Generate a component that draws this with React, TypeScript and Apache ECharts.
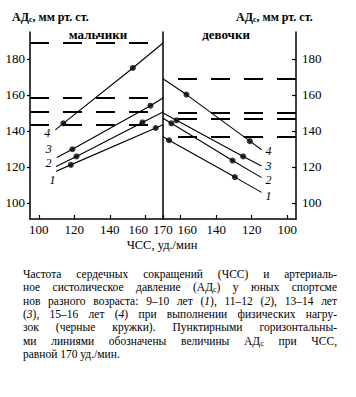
import React, { useEffect, useRef } from "react";
import * as echarts from "echarts";

// ---- data (ЧСС, АДс) ----
const boysLine1 = [[109.7, 117.5], [118, 121.1], [165.9, 141.6], [170, 143.4]];
const boysLine2 = [[109.7, 120.2], [121.2, 125.8], [158.4, 144.7], [170, 150.5]];
const boysLine3 = [[110.1, 125.2], [118.9, 129.8], [162.9, 154.0], [170, 158.3]];
const boysLine4 = [[109.3, 140.6], [113.8, 144.2], [153, 175.0], [170, 188.9]];
const boysDots1 = [[118, 121.1], [165.9, 141.6]];
const boysDots2 = [[121.2, 125.8], [158.4, 144.7]];
const boysDots3 = [[118.9, 129.8], [162.9, 154.0]];
const boysDots4 = [[113.8, 144.2], [153, 175.0]];

const girlsLine1 = [[170, 136.7], [166.6, 134.8], [129.5, 114.3], [114.4, 105.8]];
const girlsLine2 = [[170, 147.0], [165.3, 144.2], [130.8, 123.5], [114.4, 114.0]];
const girlsLine3 = [[170, 150.0], [162.4, 145.9], [124.8, 125.8], [114.4, 120.5]];
const girlsLine4 = [[170, 169.0], [156.8, 160.2], [121, 134.3], [114.4, 129.5]];
const girlsDots1 = [[166.6, 134.8], [129.5, 114.3]];
const girlsDots2 = [[165.3, 144.2], [130.8, 123.5]];
const girlsDots3 = [[162.4, 145.9], [124.8, 125.8]];
const girlsDots4 = [[156.8, 160.2], [121, 134.3]];

const lineNames = ["1", "2", "3", "4"];
const xTicksLeft = [100, 120, 140, 160, 170];
const xTicksRight = [100, 120, 140, 160];
const yTicks = [100, 120, 140, 160, 180];

const panelTitles = ["мальчики", "девочки"];
const yAxisTitle = "АД{s|с}, мм рт. ст.";
const xAxisTitle = "ЧСС, уд./мин";
const captionLines = [
  "Частота сердечных сокращений (ЧСС) и артериаль-",
  "ное систолическое давление (АД{s|с}) у юных спортсме",
  "нов разного возраста: 9–10 лет ({i|1}), 11–12 ({i|2}), 13–14 лет",
  "({i|3}), 15–16 лет ({i|4}) при выполнении физических нагру-",
  "зок (черные кружки). Пунктирными горизонтальны-",
  "ми линиями обозначены величины АД{s|с} при ЧСС,",
  "равной 170 уд./мин.",
];

const FONT = "Liberation Serif";

const boysLines = [boysLine1, boysLine2, boysLine3, boysLine4];
const boysDots = [boysDots1, boysDots2, boysDots3, boysDots4];
const girlsLines = [girlsLine1, girlsLine2, girlsLine3, girlsLine4];
const girlsDots = [girlsDots1, girlsDots2, girlsDots3, girlsDots4];

const boysLabelOffsets = [[-3.5, 9], [-7.5, -3], [-8, -9], [-8, 3]];
const girlsLabelOffsets = [[7, 4], [7, 2], [7, 0], [7, 1]];

const CAP_SIZE = 11.5;
const SUB_SIZE = 8;

function measure(ctx: CanvasRenderingContext2D, markup: string): number {
  const re = /\{(\w+)\|([^}]*)\}/g;
  let w = 0;
  let last = 0;
  let m: RegExpExecArray | null;
  const plain = (t: string) => {
    ctx.font = `${CAP_SIZE}px ${FONT}`;
    w += ctx.measureText(t).width;
  };
  while ((m = re.exec(markup))) {
    if (m.index > last) plain(markup.slice(last, m.index));
    if (m[1] === "i") ctx.font = `italic ${CAP_SIZE}px ${FONT}`;
    else ctx.font = `${SUB_SIZE}px ${FONT}`;
    w += ctx.measureText(m[2]).width;
    last = m.index + m[0].length;
  }
  if (last < markup.length) plain(markup.slice(last));
  return w;
}

const richCap = {
  i: { fontStyle: "italic", fontSize: CAP_SIZE, fontFamily: FONT, fill: "#000" },
  s: { fontSize: SUB_SIZE, fontFamily: FONT, fill: "#000", padding: [5, 0, 0, 0] },
};

export default function App() {
  const ref = useRef<HTMLDivElement>(null);
  useEffect(() => {
    document.body.style.margin = "0";
    if (!ref.current) return;
    const chart = echarts.init(ref.current, null, { renderer: "svg" });

    const canvas = document.createElement("canvas");
    const ctx = canvas.getContext("2d")!;
    const capLeft = 23;
    const capWidth = 314;
    const capTop = 274;
    const capStep = 13.3;
    const captionGraphics: any[] = [];
    captionLines.forEach((line, li) => {
      const words = line.split(" ");
      const widths = words.map((w) => measure(ctx, w));
      const total = widths.reduce((a, b) => a + b, 0);
      const justify = li < captionLines.length - 1;
      ctx.font = `${CAP_SIZE}px ${FONT}`;
      const spaceW = ctx.measureText(" ").width;
      const gap = justify ? (capWidth - total) / (words.length - 1) : spaceW;
      let x = capLeft;
      words.forEach((w, wi) => {
        captionGraphics.push({
          type: "text",
          x,
          y: capTop + li * capStep,
          style: {
            text: w,
            fontSize: CAP_SIZE,
            fontFamily: FONT,
            fill: "#000",
            align: "left",
            verticalAlign: "middle",
            textAlign: "left",
            textVerticalAlign: "middle",
            rich: richCap,
          },
        });
        x += widths[wi] + gap;
      });
    });

    const axisLabelStyle = { fontFamily: FONT, fontSize: 13, color: "#000" };
    const series: any[] = [];
    for (let i = 0; i < 4; i++) {
      const bl = boysLines[i];
      const gl = girlsLines[i];
      series.push({
        type: "line",
        xAxisIndex: 0,
        yAxisIndex: 0,
        data: bl,
        showSymbol: false,
        lineStyle: { color: "#000", width: 1.1 },
        silent: true,
        markLine: {
          silent: true,
          symbol: ["none", "none"],
          label: { show: false },
          lineStyle: { color: "#000", width: 1.8, type: [19, 14] },
          data: [{ yAxis: bl[bl.length - 1][1] }],
        },
        markPoint: {
          symbol: "circle",
          symbolSize: 1,
          itemStyle: { color: "rgba(0,0,0,0)" },
          label: {
            show: true,
            position: "inside",
            formatter: lineNames[i],
            fontFamily: FONT,
            fontStyle: "italic",
            fontSize: 12,
            color: "#000",
            offset: boysLabelOffsets[i],
          },
          data: [{ coord: bl[0] }],
        },
      });
      series.push({
        type: "scatter",
        xAxisIndex: 0,
        yAxisIndex: 0,
        data: boysDots[i],
        symbolSize: 6,
        itemStyle: { color: "#000" },
      });
      series.push({
        type: "line",
        xAxisIndex: 1,
        yAxisIndex: 1,
        data: gl,
        showSymbol: false,
        lineStyle: { color: "#000", width: 1.1 },
        silent: true,
        markLine: {
          silent: true,
          symbol: ["none", "none"],
          label: { show: false },
          lineStyle: { color: "#000", width: 1.8, type: [19, 14] },
          data: [{ yAxis: gl[0][1] }],
        },
        markPoint: {
          symbol: "circle",
          symbolSize: 1,
          itemStyle: { color: "rgba(0,0,0,0)" },
          label: {
            show: true,
            position: "inside",
            formatter: lineNames[i],
            fontFamily: FONT,
            fontStyle: "italic",
            fontSize: 12,
            color: "#000",
            offset: girlsLabelOffsets[i],
          },
          data: [{ coord: gl[gl.length - 1] }],
        },
      });
      series.push({
        type: "scatter",
        xAxisIndex: 1,
        yAxisIndex: 1,
        data: girlsDots[i],
        symbolSize: 6,
        itemStyle: { color: "#000" },
      });
    }

    const axisLine = { show: true, onZero: false, lineStyle: { color: "#000", width: 1.5 } };

    chart.setOption({
      animation: false,
      backgroundColor: "#fff",
      grid: [
        { left: 30, top: 32, width: 133, height: 187 },
        { left: 163, top: 32, width: 133, height: 187 },
      ],
      xAxis: [
        {
          type: "value",
          gridIndex: 0,
          min: 95,
          max: 170,
          axisLine,
          splitLine: { show: false },
          axisTick: { show: true, inside: true, length: 4, customValues: xTicksLeft, lineStyle: { color: "#000", width: 1.2 } },
          axisLabel: {
            ...axisLabelStyle,
            margin: 4,
            customValues: xTicksLeft,
            formatter: (v: number) => (v === 160 ? "{l|" + v + "}" : String(v)),
            rich: { l: { ...axisLabelStyle, padding: [0, 14, 0, 0] } },
          },
        },
        {
          type: "value",
          gridIndex: 1,
          min: 95,
          max: 170,
          inverse: true,
          axisLine,
          splitLine: { show: false },
          axisTick: { show: true, inside: true, length: 4, customValues: xTicksRight, lineStyle: { color: "#000", width: 1.2 } },
          axisLabel: {
            ...axisLabelStyle,
            margin: 4,
            customValues: xTicksRight,
            formatter: (v: number) => (v === 160 ? "{r|" + v + "}" : String(v)),
            rich: { r: { ...axisLabelStyle, padding: [0, 0, 0, 13] } },
          },
        },
      ],
      yAxis: [
        {
          type: "value",
          gridIndex: 0,
          min: 91,
          max: 195,
          axisLine,
          splitLine: { show: false },
          axisTick: { show: true, inside: false, length: 3, customValues: yTicks, lineStyle: { color: "#000", width: 1.2 } },
          axisLabel: { ...axisLabelStyle, margin: 5, customValues: yTicks },
        },
        {
          type: "value",
          gridIndex: 1,
          min: 91,
          max: 195,
          position: "right",
          axisLine,
          splitLine: { show: false },
          axisTick: { show: true, inside: true, length: 4, customValues: yTicks, lineStyle: { color: "#000", width: 1.2 } },
          axisLabel: { ...axisLabelStyle, margin: 6, customValues: yTicks },
        },
        {
          type: "value",
          gridIndex: 0,
          min: 91,
          max: 195,
          position: "right",
          axisLine,
          splitLine: { show: false },
          axisTick: { show: false },
          axisLabel: { show: false },
        },
      ],
      series,
      graphic: [
        {
          type: "text",
          x: 12,
          y: 17,
          style: {
            text: yAxisTitle,
            fontSize: 12,
            fontFamily: FONT,
            fontWeight: "bold",
            fill: "#000",
            align: "left",
            verticalAlign: "middle",
            textAlign: "left",
            textVerticalAlign: "middle",
            rich: { s: { fontSize: 8, fontFamily: FONT, fontWeight: "bold", fill: "#000", padding: [5, 0, 0, 0] } },
          },
        },
        {
          type: "text",
          x: 236,
          y: 17,
          style: {
            text: yAxisTitle,
            fontSize: 12,
            fontFamily: FONT,
            fontWeight: "bold",
            fill: "#000",
            align: "left",
            verticalAlign: "middle",
            textAlign: "left",
            textVerticalAlign: "middle",
            rich: { s: { fontSize: 8, fontFamily: FONT, fontWeight: "bold", fill: "#000", padding: [5, 0, 0, 0] } },
          },
        },
        {
          type: "text",
          x: 98,
          y: 34,
          style: {
            text: panelTitles[0],
            fontSize: 13,
            fontFamily: FONT,
            fontWeight: "bold",
            fill: "#000",
            align: "center",
            verticalAlign: "middle",
            textAlign: "center",
            textVerticalAlign: "middle",
          },
        },
        {
          type: "text",
          x: 226,
          y: 34,
          style: {
            text: panelTitles[1],
            fontSize: 13,
            fontFamily: FONT,
            fontWeight: "bold",
            fill: "#000",
            align: "center",
            verticalAlign: "middle",
            textAlign: "center",
            textVerticalAlign: "middle",
          },
        },
        {
          type: "text",
          x: 162,
          y: 245,
          style: {
            text: xAxisTitle,
            fontSize: 12.5,
            fontFamily: FONT,
            fill: "#000",
            align: "center",
            verticalAlign: "middle",
            textAlign: "center",
            textVerticalAlign: "middle",
          },
        },
        ...captionGraphics,
      ],
    });
    return () => chart.dispose();
  }, []);
  return <div ref={ref} style={{ width: 356, height: 397 }} />;
}
